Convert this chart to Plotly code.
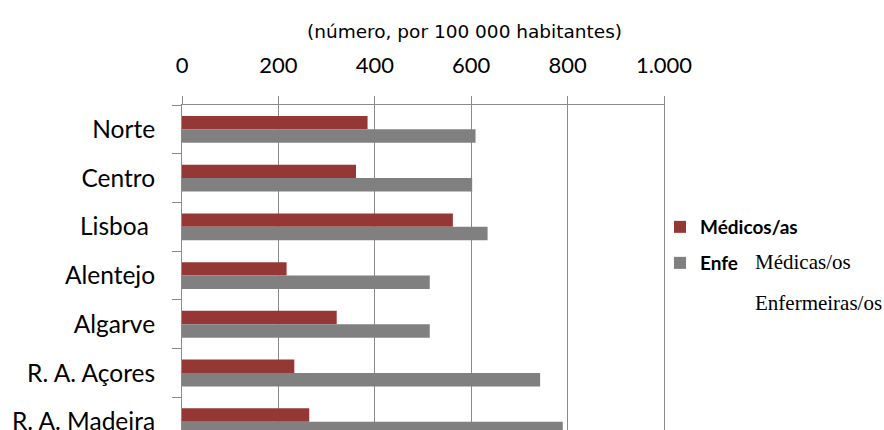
import plotly.graph_objects as go

regioes = ["Norte", "Centro", "Lisboa\u00a0", "Alentejo", "Algarve", "R. A. Açores", "R. A. Madeira"]
medicos = [385, 361, 562, 217, 321, 233, 264]
enfermeiros = [609, 602, 634, 514, 514, 743, 790]
legenda = ["Médicos/as", "Enfe"]
rotulos_extra = ["Médicas/os", "Enfermeiras/os"]
titulo = "(número, por 100 000 habitantes)"

RED = "#953735"
GRAY = "#808080"
LINE = "#8a8a8a"

fig = go.Figure()
fig.add_trace(go.Bar(y=regioes, x=medicos, orientation="h", name=legenda[0],
                     marker=dict(color=RED, line=dict(width=0)), legend="legend"))
fig.add_trace(go.Bar(y=regioes, x=enfermeiros, orientation="h", name=legenda[1],
                     marker=dict(color=GRAY, line=dict(width=0)), legend="legend2"))

W, H = 884, 430
L, R, T, B = 182, 220, 105, 0
pw, ph = W - L - R, H - T - B

def px(x):
    return (x - L) / pw

def py(y):
    return 1 - (y - T) / ph

legfont = dict(family="Lato", size=19, color="black", weight=700)
fig.update_layout(
    width=W, height=H,
    margin=dict(l=L, r=R, t=T, b=B, autoexpand=False),
    plot_bgcolor="white", paper_bgcolor="white",
    barmode="group", bargap=0.45, bargroupgap=0,
    separators=",.",
    showlegend=True,
    legend=dict(x=px(660), y=py(227), xanchor="left", yanchor="middle",
                font=legfont, bgcolor="rgba(0,0,0,0)", borderwidth=0),
    legend2=dict(x=px(660), y=py(263), xanchor="left", yanchor="middle",
                 font=legfont, bgcolor="rgba(0,0,0,0)", borderwidth=0),
)

fig.update_xaxes(
    side="top", range=[0, 1000], dtick=200, tick0=0,
    separatethousands=True,
    showgrid=True, gridcolor=LINE, gridwidth=1,
    zeroline=False,
    showline=True, linecolor=LINE, linewidth=1,
    ticks="outside", ticklen=8, tickcolor=LINE, tickwidth=1,
    ticklabelstandoff=14,
    tickfont=dict(family="Lato", size=22, color="black"),
    automargin=False,
)
fig.update_yaxes(
    type="category", categoryorder="array", categoryarray=regioes,
    range=[6.17, -0.5],
    showgrid=False, zeroline=False,
    showline=True, linecolor=LINE, linewidth=1, mirror=True,
    ticks="outside", ticklen=9, tickcolor=LINE, tickwidth=1,
    tickson="boundaries",
    ticklabelstandoff=21,
    tickfont=dict(family="Lato", size=24.5, color="black"),
    automargin=False,
)

fig.add_annotation(text=titulo, xref="paper", yref="paper", x=px(464), y=py(32),
                   xanchor="center", yanchor="middle", showarrow=False,
                   font=dict(family="DejaVu Sans", size=18.5, color="black"))
for txt, yy in zip(rotulos_extra, [262, 303]):
    fig.add_annotation(text=txt, xref="paper", yref="paper", x=px(753), y=py(yy),
                       xanchor="left", yanchor="middle", showarrow=False,
                       font=dict(family="Liberation Serif", size=21, color="black"))

fig.write_html("out.html")
